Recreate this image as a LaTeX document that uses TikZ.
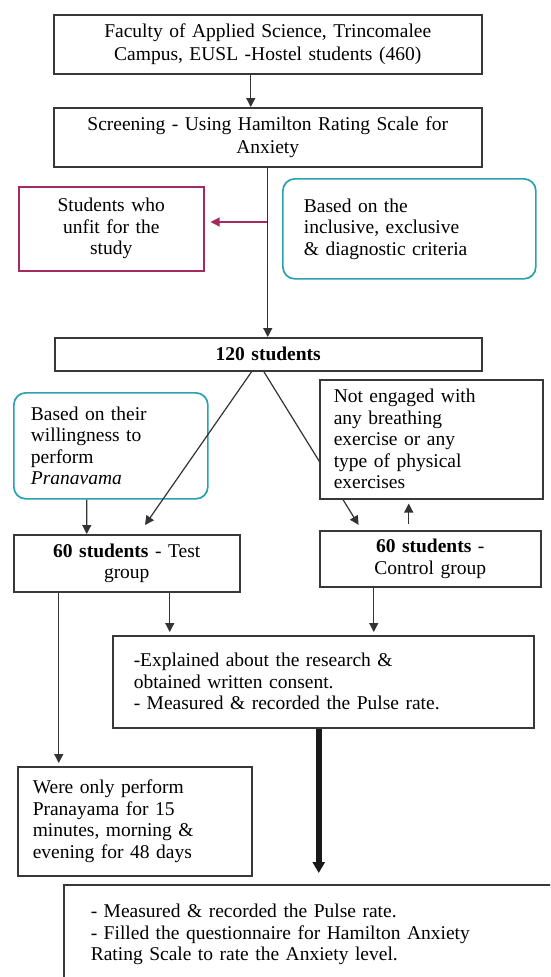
\documentclass[tikz,border=0pt]{standalone}
\usepackage{fontspec}
\setmainfont{Liberation Serif}
\usetikzlibrary{arrows.meta,backgrounds}
\definecolor{boxgray}{HTML}{383838}
\definecolor{linegray}{HTML}{333333}
\definecolor{crimson}{HTML}{A52A5F}
\definecolor{tealline}{HTML}{2BA0AF}
\newcommand\flowfont{\fontsize{19.5}{21.5}\selectfont}
\newcommand\wideleading{\fontsize{19.5}{23}\selectfont}
\begin{document}
\begin{tikzpicture}[x=1pt,y=-1pt,
  box/.style={draw=boxgray, line width=1.5pt, fill=white, inner ysep=0pt,
              anchor=north west, font=\flowfont},
  redbox/.style={box, draw=crimson},
  tealbox/.style={box, draw=tealline, line width=1.7pt, rounded corners=12pt},
  arr/.style={draw=linegray, line width=1.2pt, -{Triangle[length=9pt,width=9pt]}},
  redarr/.style={arr, draw=crimson, -{Triangle[length=9pt,width=9pt,fill=crimson]}},
  thickarr/.style={draw=black!90, line width=5.5pt, -{Triangle[length=11pt,width=12pt]}}]
\useasboundingbox (0,0) rectangle (550,977);
\begin{pgfonlayer}{background}
  \fill[white] (0,0) rectangle (550,977);
\end{pgfonlayer}

% boxes
\node[box, font=\wideleading, inner xsep=10pt, text width=408pt, minimum height=59pt, align=center] (top) at (53,14)
  {Faculty of Applied Science, Trincomalee\\Campus, EUSL -Hostel students (460)};
\node[box, font=\wideleading, inner xsep=10pt, text width=408pt, minimum height=59pt, align=center] (screen) at (53,107)
  {Screening - Using Hamilton Rating Scale for\\Anxiety};
\node[redbox, inner xsep=10pt, text width=165pt, minimum height=84pt, align=center] (unfit) at (18,186)
  {Students who\\unfit for the\\study};
\node[tealbox, inner xsep=21pt, text width=211pt, minimum height=100pt, align=left] (incl) at (282,178)
  {Based on the\\inclusive, exclusive\\\& diagnostic criteria};
\node[box, inner xsep=10pt, text width=407pt, minimum height=33pt, align=center] (s120) at (54,337)
  {\textbf{120 students}};
\node[tealbox, inner xsep=17pt, text width=160pt, minimum height=106pt, align=left] (will) at (13,392)
  {Based on their\\willingness to\\perform\\\textit{Pranavama}};
\node[box, inner xsep=14pt, text width=195pt, minimum height=119pt, align=left] (noteng) at (319,379)
  {Not engaged with\\any breathing\\exercise or any\\type of physical\\exercises};
\node[box, inner xsep=10pt, text width=206pt, minimum height=57pt, align=center] (test) at (13,534)
  {\textbf{60 students} - Test\\group};
\node[box, inner xsep=10pt, text width=201pt, minimum height=56pt, align=center] (ctrl) at (319,530)
  {\textbf{60 students} -\\Control group};
\node[box, inner xsep=21pt, text width=379pt, minimum height=92pt, align=left] (expl) at (112,635)
  {-Explained about the research \&\\obtained written consent.\\- Measured \& recorded the Pulse rate.};
\node[box, inner xsep=15pt, text width=204pt, minimum height=109pt, align=left] (were) at (17,766)
  {Were only perform\\Pranayama for 15\\minutes, morning \&\\evening for 48 days};
\begin{scope}
  \clip (0,0) rectangle (550,977);
  \node[box, inner xsep=27pt, text width=466pt, minimum height=100pt, align=left] (final) at (63,884)
    {- Measured \& recorded the Pulse rate.\\- Filled the questionnaire for Hamilton Anxiety\\Rating Scale to rate the Anxiety level.};
\end{scope}

% connectors
\draw[arr] ([xshift=-17pt]top.south) -- ([xshift=-17pt]screen.north);
\draw[arr] (screen.south) -- (screen.south |- s120.north);
\coordinate (split) at (267,222);
\draw[redarr, shorten >=6pt] (split) -- (unfit.east |- split);

% the line to the control group runs behind the "Not engaged" box
\draw[arr, shorten >=11pt] ([xshift=-16.5pt]s120.south) -- ([xshift=12pt]test.north);
\begin{pgfonlayer}{background}
  \draw[arr, shorten >=6pt] ([xshift=-4.5pt]s120.south) -- ([xshift=-68.5pt]ctrl.north);
\end{pgfonlayer}

\draw[arr] ([xshift=-24pt]will.south) -- ([xshift=-40pt]test.north);
\draw[arr, shorten <=6pt, shorten >=4pt] ([xshift=-21.5pt]ctrl.north) -- ([xshift=-22.5pt]noteng.south);

\draw[arr, shorten >=3pt] ([xshift=-68pt]test.south) -- ([xshift=-76pt]were.north);
\draw[arr, shorten >=3pt] ([xshift=43pt]test.south) -- ([xshift=-153.5pt]expl.north);
\draw[arr, shorten >=3pt] ([xshift=-56.5pt]ctrl.south) -- ([xshift=50.5pt]expl.north);
\draw[thickarr, shorten >=11pt] ([xshift=-4.5pt]expl.south) -- ([xshift=-5pt]final.north);
\end{tikzpicture}
\end{document}
